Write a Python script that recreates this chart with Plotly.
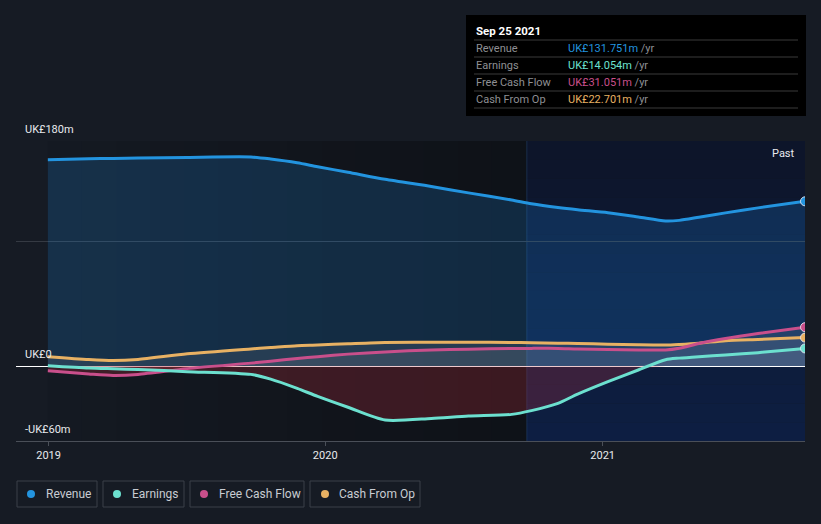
import numpy as np
import plotly.graph_objects as go

# ---------------- data ----------------
dates = ["2018-12-31", "2019-02-23", "2019-03-27", "2019-04-29", "2019-07-03",
         "2019-09-25", "2019-10-21", "2019-11-25", "2019-12-22", "2020-01-31",
         "2020-03-20", "2020-05-20", "2020-07-08", "2020-09-03", "2020-09-29",
         "2020-11-03", "2020-11-29", "2021-01-08", "2021-02-17", "2021-03-25",
         "2021-04-12", "2021-05-08", "2021-06-12", "2021-07-25", "2021-09-25"]
revenue = [165.0, 165.8, 166.1, 166.4, 166.9, 167.2, 165.6, 162.6, 159.4, 155.0,
           149.4, 143.6, 138.5, 132.8, 129.8, 126.8, 125.0, 122.6, 119.2, 116.0,
           116.5, 119.0, 122.5, 126.5, 131.751]
earnings = [0.3, -1.6, -2.2, -2.8, -4.5, -6.7, -10.5, -17.9, -24.3, -33.0,
            -43.2, -41.9, -40.0, -38.7, -35.7, -29.9, -22.5, -12.5, -3.2, 5.0,
            6.3, 7.5, 8.8, 10.7, 14.054]
free_cash_flow = [-3.7, -6.3, -7.5, -6.7, -2.1, 2.3, 3.8, 6.0, 7.4, 9.5,
                  11.3, 12.8, 13.4, 14.0, 14.1, 14.1, 13.6, 13.3, 12.9, 12.8,
                  14.2, 18.0, 22.0, 26.0, 31.051]
cash_from_op = [7.5, 5.2, 4.4, 5.3, 9.8, 13.7, 14.8, 16.3, 16.8, 17.8,
                18.9, 19.0, 19.0, 18.8, 18.6, 18.3, 18.0, 17.5, 17.0, 16.8,
                17.3, 18.3, 20.3, 21.3, 22.701]

series_names = ["Revenue", "Earnings", "Free Cash Flow", "Cash From Op"]
series_colors = ["#2394DF", "#6CE0CF", "#C94F8B", "#E8B163"]
tooltip_date = "Sep 25 2021"
tooltip_values = ["UK£131.751m", "UK£14.054m", "UK£31.051m", "UK£22.701m"]
year_ticks = ["2019-01-01", "2020-01-01", "2021-01-01"]
year_labels = ["2019", "2020", "2021"]
y_labels = [(180, "UK£180m"), (0, "UK£0"), (-60, "-UK£60m")]
past_start = "2020-09-23"
x_range = ["2018-11-19", "2021-09-25"]

# ---------------- geometry helpers ----------------
W, H = 821, 524
L, R, T, B = 16, 16, 141, 83
PW, PH = W - L - R, H - T - B


def px(x):
    return (x - L) / PW


def py(y):
    return (H - B - y) / PH


BG = "#161B24"
fig = go.Figure()

all_series = [revenue, earnings, free_cash_flow, cash_from_op]
SM = 0.7

# revenue area
fig.add_trace(go.Scatter(x=dates, y=revenue, mode="lines", line=dict(width=0, shape="spline", smoothing=SM),
                         fill="tozeroy", fillcolor="rgba(33,150,243,0.19)", hoverinfo="skip", showlegend=False))
# other areas, split into positive / negative parts
for s in all_series[1:]:
    arr = np.array(s)
    fig.add_trace(go.Scatter(x=dates, y=np.maximum(arr, 0), mode="lines",
                             line=dict(width=0, shape="spline", smoothing=SM),
                             fill="tozeroy", fillcolor="rgba(205,205,215,0.10)",
                             hoverinfo="skip", showlegend=False))
    fig.add_trace(go.Scatter(x=dates, y=np.minimum(arr, 0), mode="lines",
                             line=dict(width=0, shape="spline", smoothing=SM),
                             fill="tozeroy", fillcolor="rgba(190,45,60,0.26)",
                             hoverinfo="skip", showlegend=False))

# lines
for idx in [0, 3, 2, 1]:
    fig.add_trace(go.Scatter(x=dates, y=all_series[idx], mode="lines",
                             line=dict(color=series_colors[idx], width=3, shape="spline", smoothing=SM),
                             name=series_names[idx], hoverinfo="skip", showlegend=False))
# end markers
for idx in range(4):
    fig.add_trace(go.Scatter(x=[dates[-1]], y=[all_series[idx][-1]], mode="markers",
                             marker=dict(color=series_colors[idx], size=9,
                                         line=dict(color="rgba(230,230,240,0.9)", width=1)),
                             hoverinfo="skip", showlegend=False))

shapes = []
# darkening gradient before the past region
n = 14
t0 = np.datetime64(dates[0])
t1 = np.datetime64(past_start)
edges = [t0 + (t1 - t0) * i / n for i in range(n + 1)]
for i in range(n):
    a = 0.04 + 0.30 * (i + 0.5) / n
    shapes.append(dict(type="rect", xref="x", yref="paper", layer="below",
                       x0=str(edges[i].astype("datetime64[D]")), x1=str(edges[i + 1].astype("datetime64[D]")),
                       y0=0, y1=1, fillcolor=f"rgba(0,0,0,{a:.3f})", line=dict(width=0)))
# past region vertical gradient
m = 16
for j in range(m):
    f = (j + 0.5) / m  # 0 bottom -> 1 top
    g = int(35 - 17 * f)
    b = int(88 - 42 * f)
    shapes.append(dict(type="rect", xref="x", yref="paper", layer="below",
                       x0=past_start, x1=x_range[1], y0=j / m, y1=(j + 1) / m,
                       fillcolor=f"rgba(8,{g},{b},0.6)", line=dict(width=0)))
shapes.append(dict(type="line", xref="x", yref="paper", layer="below",
                   x0=past_start, x1=past_start, y0=0, y1=1,
                   line=dict(color="rgba(40,80,130,0.45)", width=1)))

# tooltip box
shapes.append(dict(type="rect", xref="paper", yref="paper", x0=px(466), x1=px(806), y0=py(116), y1=py(15),
                   fillcolor="#000000", line=dict(width=0)))
for yy in [40, 57, 74, 91, 108]:
    shapes.append(dict(type="line", xref="paper", yref="paper", x0=px(474), x1=px(798), y0=py(yy), y1=py(yy),
                       line=dict(color="#3A3A3A", width=1)))

# legend boxes
legend_boxes = [(17, 97), (103, 184), (190, 304), (310, 420)]
legend_dots = [31, 117, 204, 325]
legend_text_x = [44, 130, 217, 337]
for (x0, x1), dx, c in zip(legend_boxes, legend_dots, series_colors):
    shapes.append(dict(type="rect", xref="paper", yref="paper", x0=px(x0), x1=px(x1), y0=py(507), y1=py(481),
                       line=dict(color="#3A4049", width=1), fillcolor="rgba(0,0,0,0)"))
    shapes.append(dict(type="circle", xref="paper", yref="paper", x0=px(dx - 4), x1=px(dx + 4),
                       y0=py(498), y1=py(490), fillcolor=c, line=dict(width=0)))

annotations = []
for name, tx in zip(series_names, legend_text_x):
    annotations.append(dict(xref="paper", yref="paper", x=px(tx), y=py(494), text=name, showarrow=False,
                            xanchor="left", yanchor="middle", font=dict(size=12, color="#C8CCD2")))
for val, lab in y_labels:
    annotations.append(dict(xref="paper", yref="y", x=px(23), y=val, yshift=12, text=lab, showarrow=False,
                            xanchor="left", yanchor="middle", font=dict(size=11, color="#E8EAED")))
annotations.append(dict(xref="paper", yref="paper", x=px(797), y=py(153), text="Past", showarrow=False,
                        xanchor="right", yanchor="middle", font=dict(size=11, color="#E8EAED")))
annotations.append(dict(xref="paper", yref="paper", x=px(474), y=py(31), text="<b>" + tooltip_date + "</b>",
                        showarrow=False, xanchor="left", yanchor="middle", font=dict(size=11.5, color="#FFFFFF")))
for i, (name, val, c) in enumerate(zip(series_names, tooltip_values, series_colors)):
    yy = 48.5 + 17 * i
    annotations.append(dict(xref="paper", yref="paper", x=px(474), y=py(yy), text=name, showarrow=False,
                            xanchor="left", yanchor="middle", font=dict(size=11, color="#8E8F93")))
    annotations.append(dict(xref="paper", yref="paper", x=px(566), y=py(yy),
                            text=f'<span style="color:{c}">{val}</span> /yr', showarrow=False,
                            xanchor="left", yanchor="middle", font=dict(size=11, color="#8E8F93")))

fig.update_layout(
    width=W, height=H,
    margin=dict(l=L, r=R, t=T, b=B, pad=0),
    paper_bgcolor=BG, plot_bgcolor=BG,
    font=dict(family="Roboto, sans-serif", color="#E8EAED"),
    showlegend=False,
    shapes=shapes, annotations=annotations,
    xaxis=dict(type="date", range=x_range, showgrid=False, zeroline=False,
               tickvals=year_ticks, ticktext=year_labels, ticks="outside", ticklen=4,
               tickcolor="#4A4F58", showline=True, linecolor="#4A4F58", linewidth=1,
               tickfont=dict(size=11, color="#E8EAED"), fixedrange=True),
    yaxis=dict(range=[-60, 180], tickvals=[100, 180], showticklabels=False, ticks="",
               showgrid=True, gridcolor="#353A43", gridwidth=1,
               zeroline=True, zerolinecolor="#FFFFFF", zerolinewidth=1, showline=False, fixedrange=True),
)

fig.write_html("out.html", config={"displayModeBar": False},
               post_script="document.body.style.margin='0';document.body.style.padding='0';"
                           "document.body.style.background='#161B24';document.body.style.overflow='hidden';")
